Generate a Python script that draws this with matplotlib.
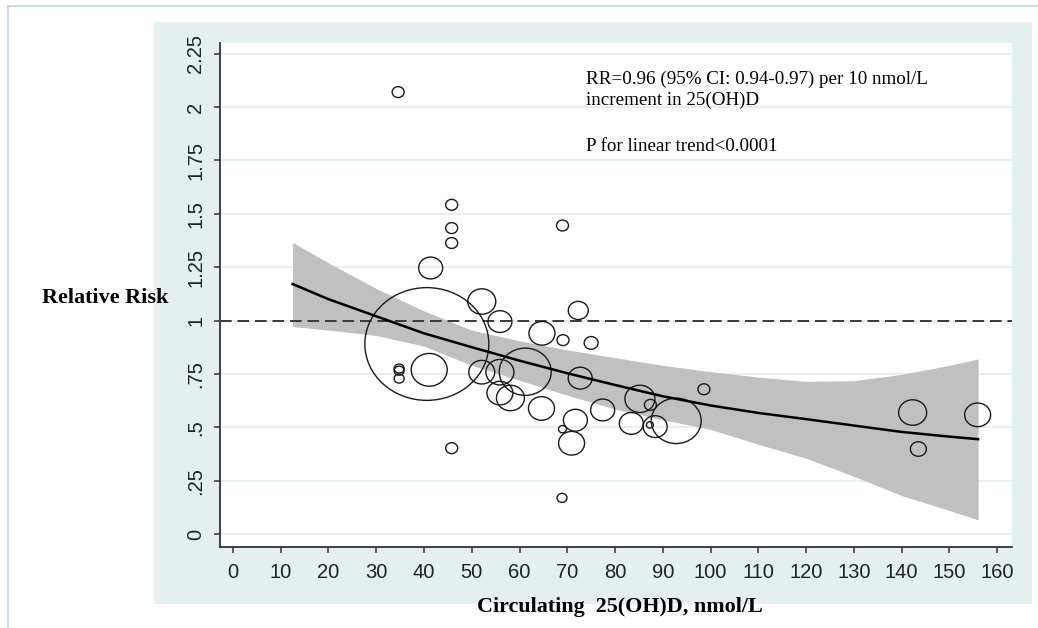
import numpy as np
import matplotlib.pyplot as plt
from matplotlib.path import Path
from matplotlib.patches import Rectangle
from matplotlib.lines import Line2D

# study estimates: 25(OH)D level, relative risk, bubble radius (study weight)
vitd = [34.6, 45.8, 45.8, 45.8, 41.4, 69.0, 40.6, 52.1, 55.9, 64.7,
        72.3, 69.1, 75.0, 41.1, 52.1, 55.9, 61.2, 55.9, 58.1, 64.6,
        72.7, 77.4, 71.7, 69.0, 70.9, 45.8, 85.2, 87.4, 83.4, 88.4,
        87.3, 92.8, 98.6, 34.8, 34.8, 34.8, 142.3, 143.5, 155.9, 68.9]
rr = [2.07, 1.542, 1.433, 1.363, 1.246, 1.445, 0.89, 1.089, 0.995, 0.94,
      1.047, 0.908, 0.895, 0.769, 0.758, 0.758, 0.76, 0.66, 0.637, 0.588,
      0.73, 0.581, 0.533, 0.491, 0.425, 0.402, 0.633, 0.605, 0.518, 0.503,
      0.511, 0.53, 0.678, 0.775, 0.765, 0.728, 0.569, 0.398, 0.558, 0.169]
weight = [6, 6, 6, 6, 12, 6, 62, 14, 12, 13,
          10, 6, 7, 18, 13, 14, 26, 13, 14, 13,
          12, 12, 12, 4, 13, 6, 15, 6, 12, 12,
          3.5, 25, 6, 5, 5, 5, 14, 8, 13, 5]

# fitted dose-response and 95% CI
fit_x = [12.5, 20, 30, 40, 50, 60, 70, 80, 90, 100, 110, 120, 130, 140, 150, 156]
fit_rr = [1.171, 1.10, 1.02, 0.94, 0.875, 0.812, 0.753, 0.698, 0.645, 0.602,
          0.567, 0.538, 0.508, 0.478, 0.456, 0.444]
ci_hi = [1.366, 1.27, 1.15, 1.045, 0.955, 0.905, 0.862, 0.826, 0.79, 0.76,
         0.735, 0.715, 0.718, 0.748, 0.79, 0.82]
ci_lo = [0.972, 0.955, 0.93, 0.88, 0.79, 0.72, 0.65, 0.585, 0.535, 0.49,
         0.42, 0.355, 0.27, 0.18, 0.11, 0.066]

yticks = [0, 0.25, 0.5, 0.75, 1, 1.25, 1.5, 1.75, 2, 2.25]
ylabels = ['0', '.25', '.5', '.75', '1', '1.25', '1.5', '1.75', '2', '2.25']
xticks = list(range(0, 161, 10))

W, H = 1038, 628
fig = plt.figure(figsize=(W / 100, H / 100), dpi=100)

# screenshot frame
fig.add_artist(Line2D([8 / W, 8 / W], [0, 1 - 6 / H], color='#c8daf2', lw=1.5))
fig.add_artist(Line2D([8 / W, 1], [1 - 6 / H, 1 - 6 / H], color='#c8daf2', lw=1.5))

# stata graph region
fig.add_artist(Rectangle((154 / W, 1 - 604 / H), 878 / W, 582 / H,
                         facecolor='#e4eff0', edgecolor='none', zorder=0))

ax = fig.add_axes([220 / W, 1 - 547 / H, 792 / W, 504 / H])
ax.set_facecolor('white')
ax.set_xlim(-2.7, 163.1)
ax.set_ylim(-0.061, 2.30)

for yt in yticks:
    ax.axhline(yt, color='#e3eff0', lw=1.3, zorder=1)

ax.fill_between(fit_x, ci_lo, ci_hi, color='#c0c0c0', lw=0, zorder=2)
ax.axhline(1, color='#3a3a3a', lw=1.4, dashes=(6, 3), zorder=3)

circ = Path.unit_circle()
ell = Path(circ.vertices * np.array([1.1, 1.0]), circ.codes)
sizes = [(2 * r * 72 / 100) ** 2 for r in weight]
ax.scatter(vitd, rr, s=sizes, marker=ell, facecolors='none',
           edgecolors='#1a1a1a', linewidths=1.0, zorder=4)

ax.plot(fit_x, fit_rr, color='black', lw=1.8, zorder=5)

for side in ['top', 'right']:
    ax.spines[side].set_visible(False)
for side in ['left', 'bottom']:
    ax.spines[side].set_color('#333333')
    ax.spines[side].set_linewidth(1.3)

ax.set_yticks(yticks)
ax.set_yticklabels(ylabels, rotation=90, va='center', family='Liberation Sans', fontsize=14.5)
ax.set_xticks(xticks)
ax.set_xticklabels([str(v) for v in xticks], family='Liberation Sans', fontsize=14.5)
ax.tick_params(axis='both', direction='out', length=4.5, width=1.1, color='#333333',
               labelcolor='#222222')
ax.tick_params(axis='y', pad=6)
ax.tick_params(axis='x', pad=7)

fig.text(42 / W, 1 - 298 / H, 'Relative Risk', family='Liberation Serif',
         fontweight='bold', fontsize=15.9, ha='left', va='center')
fig.text(620 / W, 1 - 607 / H, 'Circulating  25(OH)D, nmol/L', family='Liberation Serif',
         fontweight='bold', fontsize=15.8, ha='center', va='center')

fig.text(586 / W, 1 - 84 / H, 'RR=0.96 (95% CI: 0.94-0.97) per 10 nmol/L',
         family='Liberation Serif', fontsize=13.7, va='baseline')
fig.text(586 / W, 1 - 105 / H, 'increment in 25(OH)D',
         family='Liberation Serif', fontsize=13.7, va='baseline')
fig.text(586 / W, 1 - 151 / H, 'P for linear trend<0.0001',
         family='Liberation Serif', fontsize=13.7, va='baseline')

fig.savefig('out.png', dpi=100)
